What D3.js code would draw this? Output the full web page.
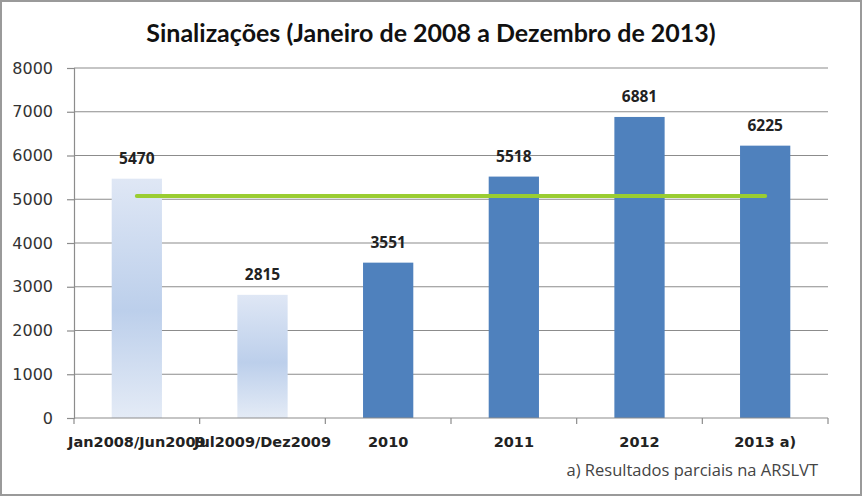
<!DOCTYPE html>
<html><head><meta charset="utf-8">
<script src="https://cdn.jsdelivr.net/npm/d3@7"></script>
<style>body{margin:0;background:#fff}svg{display:block}</style>
</head><body>
<script>
const categories = ["Jan2008/Jun2009","Jul2009/Dez2009","2010","2011","2012","2013 a)"];
const values = [5470, 2815, 3551, 5518, 6881, 6225];
const partial = [true, true, false, false, false, false];
const lineValues = [5077, 5077, 5077, 5077, 5077, 5077];
const yTicks = [0,1000,2000,3000,4000,5000,6000,7000,8000];
const title = "Sinalizações (Janeiro de 2008 a Dezembro de 2013)";
const footnote = "a) Resultados parciais na ARSLVT";

const W = 862, H = 496;
const m = {left:74, right:34, top:68, bottom:78};
const svg = d3.select("body").append("svg").attr("width",W).attr("height",H);

const defs = svg.append("defs");
const g1 = defs.append("linearGradient").attr("id","lightGrad").attr("x1",0).attr("y1",0).attr("x2",0).attr("y2",1);
g1.append("stop").attr("offset","0%").attr("stop-color","#dfe7f5");
g1.append("stop").attr("offset","55%").attr("stop-color","#bccfeb");
g1.append("stop").attr("offset","100%").attr("stop-color","#e4ebf6");

svg.append("rect").attr("x",1).attr("y",1).attr("width",W-2).attr("height",H-2)
  .attr("fill","#fff").attr("stroke","#9a9a9a").attr("stroke-width",2);

const x = d3.scaleBand().domain(categories).range([m.left, W-m.right]).paddingInner(0.6).paddingOuter(0.3);
const xb = d3.scaleBand().domain(categories).range([m.left, W-m.right]);
const y = d3.scaleLinear().domain([0,8000]).range([H-m.bottom, m.top]);

// gridlines
svg.append("g").selectAll("line").data(yTicks.filter(d=>d>0)).join("line")
  .attr("x1",m.left).attr("x2",W-m.right).attr("y1",d=>y(d)).attr("y2",d=>y(d))
  .attr("stroke","#8c8c8c").attr("stroke-width",1.2);

// bars
svg.append("g").selectAll("rect").data(categories).join("rect")
  .attr("x",d=>x(d)).attr("width",x.bandwidth())
  .attr("y",(d,i)=>y(values[i])).attr("height",(d,i)=>y(0)-y(values[i]))
  .attr("fill",(d,i)=>partial[i]?"url(#lightGrad)":"#4f81bd");

// value labels
svg.append("g").selectAll("text").data(categories).join("text")
  .attr("x",d=>x(d)+x.bandwidth()/2).attr("y",(d,i)=>y(values[i])-15)
  .attr("text-anchor","middle").attr("font-family","Open Sans").attr("font-weight",700)
  .attr("font-size",15.5).attr("fill","#222").text((d,i)=>values[i]);

// green line
const line = d3.line().x((d,i)=>x(categories[i])+x.bandwidth()/2).y(d=>y(d));
svg.append("path").datum(lineValues).attr("d",line)
  .attr("fill","none").attr("stroke","#9acd32").attr("stroke-width",4).attr("stroke-linecap","round");

// y axis
const ya = svg.append("g").attr("transform",`translate(${m.left},0)`)
  .call(d3.axisLeft(y).tickValues(yTicks).tickFormat(d3.format("d")).tickSize(7).tickPadding(14));
ya.select(".domain").attr("stroke","#8c8c8c").attr("stroke-width",1.2);
ya.selectAll(".tick line").attr("stroke","#8c8c8c").attr("stroke-width",1.2);
ya.selectAll("text").attr("font-family","DejaVu Sans").attr("font-size",16).attr("fill","#333");

// x axis
const xa = svg.append("g").attr("transform",`translate(0,${y(0)})`);
xa.append("line").attr("x1",m.left).attr("x2",W-m.right).attr("stroke","#8c8c8c").attr("stroke-width",1.2);
const bounds = categories.map(c=>xb(c)).concat([xb(categories[categories.length-1])+xb.bandwidth()]);
xa.selectAll(".tk").data(bounds).join("line").attr("class","tk")
  .attr("x1",d=>d).attr("x2",d=>d).attr("y1",0).attr("y2",6).attr("stroke","#8c8c8c").attr("stroke-width",1.2);
xa.selectAll("text").data(categories).join("text")
  .attr("x",d=>x(d)+x.bandwidth()/2).attr("y",29).attr("text-anchor","middle")
  .attr("font-family","DejaVu Sans").attr("font-weight",700).attr("font-size",14.5).attr("fill","#222")
  .text(d=>d);

// title
svg.append("text").attr("x",431).attr("y",42).attr("text-anchor","middle")
  .attr("font-family","Lato").attr("font-weight",700).attr("font-size",25).attr("fill","#111").text(title);

// footnote
svg.append("text").attr("x",818).attr("y",476).attr("text-anchor","end")
  .attr("font-family","Open Sans").attr("font-size",16.5).attr("fill","#444").text(footnote);
</script>
</body></html>
